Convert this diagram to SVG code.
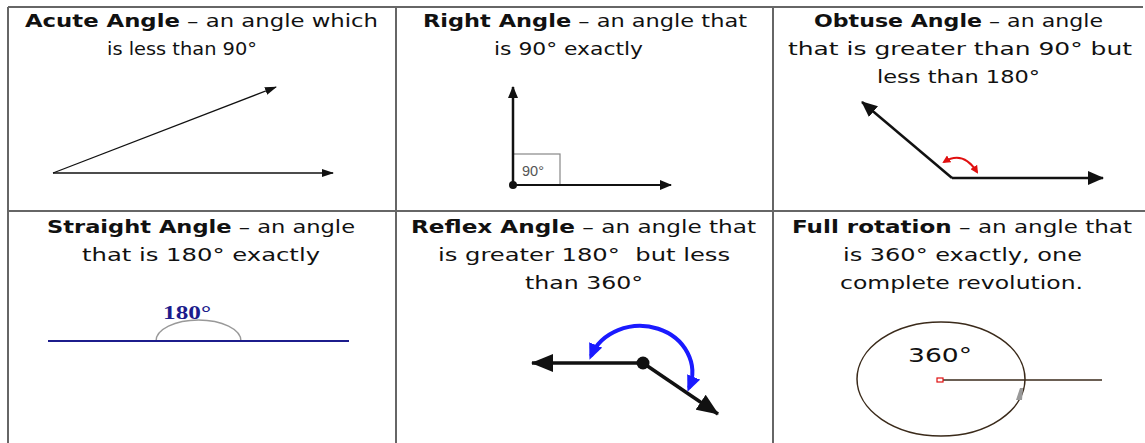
<svg xmlns="http://www.w3.org/2000/svg" width="1145" height="443" viewBox="0 0 1145 443">
<style>
.t{font-family:"Comic Sans MS","DejaVu Sans",sans-serif;font-size:18.5px;fill:#111}
.b{font-weight:bold}
.grid{stroke:#666;stroke-width:2;fill:none}
.ln{stroke:#111;fill:none}
</style>
<defs>
<marker id="aS" markerUnits="userSpaceOnUse" markerWidth="12" markerHeight="8" refX="11" refY="4" orient="auto"><path d="M0,0 L12,4 L0,8 Z" fill="#111"/></marker>
<marker id="aM" markerUnits="userSpaceOnUse" markerWidth="12" markerHeight="10" refX="11" refY="5" orient="auto"><path d="M0,0 L12,5 L0,10 Z" fill="#111"/></marker>
<marker id="aL" markerUnits="userSpaceOnUse" markerWidth="16" markerHeight="14" refX="15" refY="7" orient="auto"><path d="M0,0 L16,7 L0,14 Z" fill="#111"/></marker>
<marker id="aXL" markerUnits="userSpaceOnUse" markerWidth="22" markerHeight="18" refX="21" refY="9" orient="auto"><path d="M0,0 L22,9 L0,18 Z" fill="#111"/></marker>
<marker id="aR" markerUnits="userSpaceOnUse" markerWidth="8" markerHeight="8" refX="6" refY="4" orient="auto-start-reverse"><path d="M0,0 L8,4 L0,8 Z" fill="#e01010"/></marker>
<marker id="aB" markerUnits="userSpaceOnUse" markerWidth="16" markerHeight="14" refX="12" refY="7" orient="auto-start-reverse"><path d="M0,0 L16,7 L0,14 Z" fill="#1a1aff"/></marker>
</defs>

<g id="table">
<line class="grid" x1="8" y1="7" x2="1143" y2="7"/>
<line class="grid" x1="8" y1="211" x2="1145" y2="211"/>
<line class="grid" x1="8" y1="7" x2="8" y2="443"/>
<line class="grid" x1="396" y1="7" x2="396" y2="443"/>
<line class="grid" x1="773" y1="7" x2="773" y2="443"/>
</g>

<g id="acute">
<text class="t" x="25" y="27" textLength="353" lengthAdjust="spacingAndGlyphs"><tspan class="b">Acute  Angle</tspan> – an angle which</text>
<text class="t" x="107" y="55" textLength="150" lengthAdjust="spacingAndGlyphs">is less than 90°</text>
<g>
<line class="ln" stroke-width="1.3" x1="53" y1="173" x2="333" y2="173" marker-end="url(#aS)"/>
<line class="ln" stroke-width="1.3" x1="53" y1="173" x2="276" y2="87" marker-end="url(#aS)"/>
</g>
</g>

<g id="right">
<text class="t" x="423" y="27" textLength="324" lengthAdjust="spacingAndGlyphs"><tspan class="b">Right  Angle</tspan> – an angle that</text>
<text class="t" x="494" y="55" textLength="149" lengthAdjust="spacingAndGlyphs">is 90° exactly</text>
<rect x="513" y="154" width="47" height="31" fill="none" stroke="#888" stroke-width="1.2"/>
<text x="522" y="176" font-family="'Liberation Sans',Arial,sans-serif" font-size="14.5" fill="#555">90°</text>
<line class="ln" stroke-width="2.5" x1="513" y1="185" x2="513" y2="87" marker-end="url(#aM)"/>
<line class="ln" stroke-width="2" x1="513" y1="185" x2="671" y2="185" marker-end="url(#aM)"/>
<circle cx="513" cy="185" r="4" fill="#111"/>
</g>

<g id="obtuse">
<text class="t" x="814" y="27" textLength="289" lengthAdjust="spacingAndGlyphs"><tspan class="b">Obtuse  Angle</tspan> – an angle</text>
<text class="t" x="788" y="55" textLength="344" lengthAdjust="spacingAndGlyphs">that is greater than 90° but</text>
<text class="t" x="877" y="83" textLength="163" lengthAdjust="spacingAndGlyphs">less than 180°</text>
<line class="ln" stroke-width="2.5" x1="952" y1="178" x2="1103" y2="178" marker-end="url(#aL)"/>
<line class="ln" stroke-width="2.5" x1="952" y1="178" x2="862" y2="102" marker-end="url(#aL)"/>
<path d="M944 162 Q963 150 977 172" fill="none" stroke="#e01010" stroke-width="2" marker-start="url(#aR)" marker-end="url(#aR)"/>
</g>

<g id="straight">
<text class="t" x="47" y="233" textLength="308" lengthAdjust="spacingAndGlyphs"><tspan class="b">Straight  Angle</tspan> – an angle</text>
<text class="t" x="82" y="261" textLength="238" lengthAdjust="spacingAndGlyphs">that is 180° exactly</text>
<path d="M156 341 A42.5 21 0 0 1 241 341" fill="none" stroke="#999" stroke-width="1.3"/>
<line x1="48" y1="341" x2="349" y2="341" stroke="#1c1c8c" stroke-width="2"/>
<text x="163" y="319" font-family="'Liberation Serif','Times New Roman',serif" font-size="19" font-weight="bold" fill="#1c1c8c" textLength="48" lengthAdjust="spacingAndGlyphs">180°</text>
</g>

<g id="reflex">
<text class="t" x="411" y="233" textLength="345" lengthAdjust="spacingAndGlyphs"><tspan class="b">Reflex  Angle</tspan> – an angle that</text>
<text class="t" x="438" y="261" textLength="292" lengthAdjust="spacingAndGlyphs" xml:space="preserve">is greater 180°  but less</text>
<text class="t" x="525" y="289" textLength="118" lengthAdjust="spacingAndGlyphs">than 360°</text>
<line class="ln" stroke-width="3.5" x1="643" y1="363" x2="532" y2="363" marker-end="url(#aXL)"/>
<line class="ln" stroke-width="3.5" x1="643" y1="363" x2="718" y2="414" marker-end="url(#aXL)"/>
<circle cx="643" cy="363" r="6.5" fill="#111"/>
<path d="M689 388 A51 45 0 1 0 591 356" fill="none" stroke="#1a1aff" stroke-width="4" marker-start="url(#aB)" marker-end="url(#aB)"/>
</g>

<g id="full">
<text class="t" x="792" y="233" textLength="340" lengthAdjust="spacingAndGlyphs"><tspan class="b">Full  rotation</tspan> – an angle that</text>
<text class="t" x="843" y="261" textLength="239" lengthAdjust="spacingAndGlyphs">is 360° exactly, one</text>
<text class="t" x="840" y="289" textLength="243" lengthAdjust="spacingAndGlyphs">complete revolution.</text>
<ellipse cx="941" cy="379" rx="84" ry="57" fill="none" stroke="#3a2a1a" stroke-width="1.5"/>
<line x1="943" y1="380" x2="1102" y2="380" stroke="#3a2a1a" stroke-width="1.5"/>
<rect x="937" y="378" width="6" height="4" fill="#fff" stroke="#e01010" stroke-width="1.2"/>
<text x="908" y="362" font-family="'DejaVu Sans',sans-serif" font-size="20" fill="#111" textLength="64" lengthAdjust="spacingAndGlyphs">360°</text>
<path d="M1020 388 L1023 388 L1022 400 L1016 400 Z" fill="#999"/>
</g>
</svg>
